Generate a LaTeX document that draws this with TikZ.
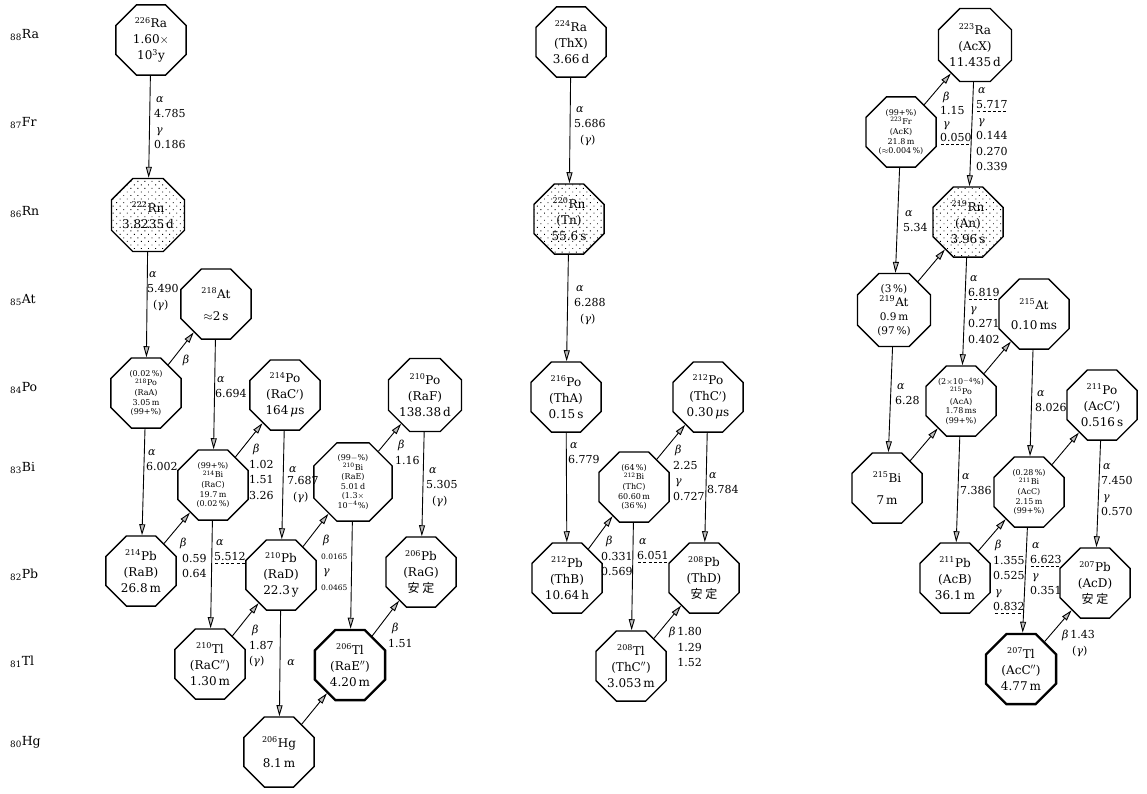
\documentclass[tikz,border=0pt]{standalone}
\usepackage{amsmath,amssymb}
\usepackage{fontspec}
\setmainfont{DejaVu Serif}
\newfontfamily\cjk{Noto Sans CJK JP}
\usetikzlibrary{shapes.geometric,arrows.meta,patterns.meta}

\tikzset{
  nuc/.style={regular polygon, regular polygon sides=8, minimum size=76pt, inner sep=0pt, draw, fill=white, line width=1.3pt, align=center, font=\fontsize{12}{16}\selectfont},
  nucsm/.style={nuc, font=\fontsize{8}{9.6}\selectfont},
  nucmd/.style={nuc, font=\fontsize{10.5}{14}\selectfont},
  gas/.style={pattern={Dots[distance=5pt,radius=0.65pt,angle=45]}},
  heavy/.style={line width=2.3pt},
  decay/.style={line width=0.9pt, -{Triangle[length=11pt,width=6pt,fill=gray!50]}},
  lab/.style={anchor=north west, inner sep=0pt, align=left, font=\fontsize{11}{15.5}\selectfont},
  elem/.style={anchor=west, inner sep=0pt, font=\fontsize{12.5}{14}\selectfont},
}
\newcommand{\iso}[2]{\textsuperscript{#1}#2}
\newcommand{\alp}{\textit{α}}
\newcommand{\bet}{\textit{β}}
\newcommand{\gam}{\textit{γ}}
\newcommand{\mic}{\textit{μ}}
\newcommand{\sm}[1]{{\fontsize{7.5}{13.5}\selectfont #1}}
\newcommand{\dul}[2]{\rlap{\raisebox{-3pt}{\hbox to #2{\xleaders\hbox to 5pt{\hss\vrule width 3pt height 0.6pt\hss}\hfill}}}#1}

\begin{document}
\begin{tikzpicture}[x=1pt,y=-1pt]
\useasboundingbox (0,0) rectangle (1147,793);

\node[elem] (zRa) at (10,35) {\textsubscript{88}Ra};
\node[elem] (zFr) at (10,123) {\textsubscript{87}Fr};
\node[elem] (zRn) at (10,212) {\textsubscript{86}Rn};
\node[elem] (zAt) at (10,300) {\textsubscript{85}At};
\node[elem] (zPo) at (10,388) {\textsubscript{84}Po};
\node[elem] (zBi) at (10,468) {\textsubscript{83}Bi};
\node[elem] (zPb) at (10,575) {\textsubscript{82}Pb};
\node[elem] (zTl) at (10,662) {\textsubscript{81}Tl};
\node[elem] (zHg) at (10,742) {\textsubscript{80}Hg};

\node[nuc] (Ra226) at (151,40) {\iso{226}{Ra}\\1.60$\times$\\10\textsuperscript{3}y};
\node[nuc,gas] (Rn222) at (148,215) {\iso{222}{Rn}\\3.8235\,d};
\node[nuc] (At218) at (216,304) {\iso{218}{At}\\[6pt]$\approx$2\,s};
\node[nucsm] (Po218) at (146,393) {(0.02\,\%)\\\iso{218}{Po}\\(RaA)\\3.05\,m\\(99+\%)};
\node[nuc] (Po214) at (285,395) {\iso{214}{Po}\\(RaC$'$)\\164\,\mic s};
\node[nuc] (Po210) at (425,395) {\iso{210}{Po}\\(RaF)\\138.38\,d};
\node[nucsm] (Bi214) at (213,485) {(99+\%)\\\iso{214}{Bi}\\(RaC)\\19.7\,m\\(0.02\,\%)};
\node[nucsm] (Bi210) at (353,482) {(99$-$\%)\\\iso{210}{Bi}\\(RaE)\\5.01\,d\\(1.3$\times$\\10\textsuperscript{$-$4}\%)};
\node[nuc] (Pb214) at (141,571) {\iso{214}{Pb}\\(RaB)\\26.8\,m};
\node[nuc] (Pb210) at (281,575) {\iso{210}{Pb}\\(RaD)\\22.3\,y};
\node[nuc] (Pb206) at (421,572) {\iso{206}{Pb}\\(RaG)\\{\cjk 安\ 定}};
\node[nuc] (Tl210) at (210,664) {\iso{210}{Tl}\\(RaC$''$)\\1.30\,m};
\node[nuc,heavy] (Tl206) at (350,665) {\iso{206}{Tl}\\(RaE$''$)\\4.20\,m};
\node[nuc] (Hg206) at (279,752) {\iso{206}{Hg}\\[4pt]8.1\,m};

\draw[decay] (Ra226) -- (Rn222);
\draw[decay] (Rn222) -- (Po218);
\draw[decay] (Po218) -- (At218);
\draw[decay] (Po218) -- (Pb214);
\draw[decay] (At218) -- (Bi214);
\draw[decay] (Pb214) -- (Bi214);
\draw[decay] (Bi214) -- (Po214);
\draw[decay] (Bi214) -- (Tl210);
\draw[decay] (Po214) -- (Pb210);
\draw[decay] (Tl210) -- (Pb210);
\draw[decay] (Pb210) -- (Bi210);
\draw[decay] (Pb210) -- (Hg206);
\draw[decay] (Bi210) -- (Po210);
\draw[decay] (Bi210) -- (Tl206);
\draw[decay] (Po210) -- (Pb206);
\draw[decay] (Hg206) -- (Tl206);
\draw[decay] (Tl206) -- (Pb206);

\node[lab] (lRa226) at (154,96) {\hspace*{2pt}\alp\\4.785\\\hspace*{2pt}\gam\\0.186};
\node[lab] (lRn222) at (147,271) {\hspace*{2pt}\alp\\5.490\\\hspace*{6pt}(\gam)};
\node[lab,anchor=center] (lPo218b) at (186,360) {\bet};
\node[lab] (lPo218a) at (146,449) {\hspace*{2pt}\alp\\6.002};
\node[lab] (lAt218) at (215,376) {\hspace*{2pt}\alp\\6.694};
\node[lab] (lBi214b) at (249,444) {\hspace*{4pt}\bet\\1.02\\1.51\\3.26};
\node[lab] (lPb214) at (180,538) {\bet\\\hspace*{2pt}0.59\\\hspace*{2pt}0.64};
\node[lab] (lBi214a) at (214,539) {\hspace*{2pt}\alp\\\dul{5.512}{32pt}};
\node[lab] (lPo214) at (287,466) {\hspace*{2pt}\alp\\[-3pt]7.687\\\hspace*{6pt}(\gam)};
\node[lab] (lTl210) at (249,625) {\hspace*{3pt}\bet\\1.87\\(\gam)};
\node[lab] (lPb210b) at (321,535) {\hspace*{2pt}\bet\\\sm{0.0165}\\\hspace*{2pt}\gam\\\sm{0.0465}};
\node[lab,anchor=center] (lPb210a) at (291,663) {\alp};
\node[lab] (lBi210) at (395,440) {\hspace*{3pt}\bet\\1.16};
\node[lab] (lPo210) at (426,467) {\hspace*{3pt}\alp\\5.305\\\hspace*{6pt}(\gam)};
\node[lab] (lTl206) at (388,623) {\hspace*{4pt}\bet\\1.51};

\node[nuc] (Ra224) at (571,42) {\iso{224}{Ra}\\(ThX)\\3.66\,d};
\node[nuc,gas] (Rn220) at (569,219) {\iso{220}{Rn}\\(Tn)\\55.6\,s};
\node[nuc] (Po216) at (566,397) {\iso{216}{Po}\\(ThA)\\0.15\,s};
\node[nuc] (Po212) at (708,397) {\iso{212}{Po}\\(ThC$'$)\\0.30\,\mic s};
\node[nucsm] (Bi212) at (634,487) {(64\,\%)\\\iso{212}{Bi}\\(ThC)\\60.60\,m\\(36\,\%)};
\node[nuc] (Pb212) at (567,578) {\iso{212}{Pb}\\(ThB)\\10.64\,h};
\node[nuc] (Pb208) at (704,578) {\iso{208}{Pb}\\(ThD)\\{\cjk 安\ 定}};
\node[nuc] (Tl208) at (631,666) {\iso{208}{Tl}\\(ThC$''$)\\3.053\,m};

\draw[decay] (Ra224) -- (Rn220);
\draw[decay] (Rn220) -- (Po216);
\draw[decay] (Po216) -- (Pb212);
\draw[decay] (Pb212) -- (Bi212);
\draw[decay] (Bi212) -- (Po212);
\draw[decay] (Po212) -- (Pb208);
\draw[decay] (Bi212) -- (Tl208);
\draw[decay] (Tl208) -- (Pb208);

\node[lab] (lRa224) at (574,106) {\hspace*{2pt}\alp\\5.686\\\hspace*{6pt}(\gam)};
\node[lab] (lRn220) at (574,285) {\hspace*{2pt}\alp\\6.288\\\hspace*{6pt}(\gam)};
\node[lab] (lPo216) at (568,442) {\hspace*{2pt}\alp\\6.779};
\node[lab] (lPb212) at (601,536) {\hspace*{5pt}\bet\\0.331\\0.569};
\node[lab] (lBi212b) at (673,445) {\hspace*{2pt}\bet\\2.25\\\hspace*{2pt}\gam\\0.727};
\node[lab] (lPo212) at (707,472) {\hspace*{2pt}\alp\\8.784};
\node[lab] (lBi212a) at (637,538) {\hspace*{2pt}\alp\\\dul{6.051}{31pt}};
\node[lab] (lTl208) at (669,627) {\bet\,1.80\\\hphantom{\bet\,}1.29\\\hphantom{\bet\,}1.52};

\node[nuc] (Ra223) at (975,45) {\iso{223}{Ra}\\(AcX)\\11.435\,d};
\node[nucsm] (Fr223) at (901,132) {(99+\%)\\\iso{223}{Fr}\\(AcK)\\21.8\,m\\($\approx$0.004\,\%)};
\node[nuc,gas] (Rn219) at (968,222) {\iso{219}{Rn}\\(An)\\3.96\,s};
\node[nucmd] (At219) at (894,310) {(3\,\%)\\{\fontsize{12}{14}\selectfont\iso{219}{At}}\\0.9\,m\\(97\,\%)};
\node[nuc] (At215) at (1034,314) {\iso{215}{At}\\[4pt]0.10\,ms};
\node[nucsm] (Po215) at (961,401) {(2$\times$10\textsuperscript{$-$4}\%)\\\iso{215}{Po}\\(AcA)\\1.78\,ms\\(99+\%)};
\node[nuc] (Po211) at (1102,405) {\iso{211}{Po}\\(AcC$'$)\\0.516\,s};
\node[nuc] (Bi215) at (887,488) {\iso{215}{Bi}\\[6pt]7\,m};
\node[nucsm] (Bi211) at (1029,492) {(0.28\,\%)\\\iso{211}{Bi}\\(AcC)\\2.15\,m\\(99+\%)};
\node[nuc] (Pb211) at (955,578) {\iso{211}{Pb}\\(AcB)\\36.1\,m};
\node[nuc] (Pb207) at (1095,583) {\iso{207}{Pb}\\(AcD)\\{\cjk 安\ 定}};
\node[nuc,heavy] (Tl207) at (1021,669) {\iso{207}{Tl}\\(AcC$''$)\\4.77\,m};

\draw[decay] (Fr223) -- (Ra223);
\draw[decay] (Ra223) -- (Rn219);
\draw[decay] (Fr223) -- (At219);
\draw[decay] (At219) -- (Rn219);
\draw[decay] (Rn219) -- (Po215);
\draw[decay] (Po215) -- (At215);
\draw[decay] (At219) -- (Bi215);
\draw[decay] (Bi215) -- (Po215);
\draw[decay] (At215) -- (Bi211);
\draw[decay] (Bi211) -- (Po211);
\draw[decay] (Po211) -- (Pb207);
\draw[decay] (Po215) -- (Pb211);
\draw[decay] (Pb211) -- (Bi211);
\draw[decay] (Bi211) -- (Tl207);
\draw[decay] (Tl207) -- (Pb207);

\node[lab,font=\fontsize{11}{13.5}\selectfont] (lFr223b) at (940,92) {\hspace*{3pt}\bet\\1.15\\\hspace*{3pt}\gam\\\dul{0.050}{30pt}};
\node[lab] (lRa223) at (976,87) {\hspace*{2pt}\alp\\\dul{5.717}{31pt}\\\hspace*{2pt}\gam\\0.144\\0.270\\0.339};
\node[lab] (lFr223a) at (903,210) {\hspace*{2pt}\alp\\5.34};
\node[lab] (lRn219) at (968,275) {\hspace*{2pt}\alp\\\dul{6.819}{30pt}\\\hspace*{2pt}\gam\\0.271\\0.402};
\node[lab] (lAt219) at (895,383) {\hspace*{2pt}\alp\\6.28};
\node[lab] (lAt215) at (1035,390) {\hspace*{2pt}\alp\\8.026};
\node[lab] (lPo211) at (1101,463) {\hspace*{2pt}\alp\\7.450\\\hspace*{2pt}\gam\\0.570};
\node[lab] (lPo215) at (960,473) {\hspace*{2pt}\alp\\7.386};
\node[lab] (lPb211) at (993,540) {\hspace*{2pt}\bet\\1.355\\0.525\\\hspace*{2pt}\gam\\\dul{0.832}{29pt}};
\node[lab] (lBi211) at (1030,542) {\hspace*{2pt}\alp\\\dul{6.623}{30pt}\\\hspace*{2pt}\gam\\0.351};
\node[lab] (lTl207) at (1062,630) {\bet\,1.43\\\hspace*{10pt}(\gam)};
\end{tikzpicture}
\end{document}
